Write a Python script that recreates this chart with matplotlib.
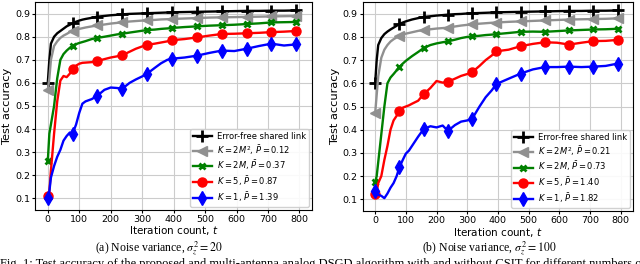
import numpy as np
import matplotlib
matplotlib.use("Agg")
import matplotlib.pyplot as plt

t = [0, 5, 10, 20, 30, 40, 50, 60, 70, 79, 90, 100, 110, 120, 140, 158, 180, 200, 220, 237,
     260, 280, 300, 316, 340, 360, 380, 395, 435, 474, 514, 553, 593, 632, 672, 711, 751, 790]
marker_t = [0, 79, 158, 237, 316, 395, 474, 553, 632, 711, 790]

# Panel (a): sigma^2 = 20
a_ef = [0.60, 0.70, 0.77, 0.80, 0.815, 0.825, 0.835, 0.845, 0.852, 0.858, 0.865, 0.870, 0.874, 0.877,
        0.882, 0.887, 0.890, 0.893, 0.895, 0.897, 0.899, 0.900, 0.901, 0.902, 0.903, 0.904, 0.905,
        0.906, 0.907, 0.908, 0.909, 0.910, 0.911, 0.912, 0.912, 0.913, 0.913, 0.914]
a_k2m2 = [0.57, 0.62, 0.70, 0.76, 0.78, 0.795, 0.805, 0.812, 0.82, 0.826, 0.830, 0.834, 0.837, 0.840,
          0.845, 0.849, 0.853, 0.857, 0.860, 0.863, 0.866, 0.868, 0.870, 0.871, 0.873, 0.875, 0.876,
          0.877, 0.879, 0.881, 0.883, 0.884, 0.885, 0.886, 0.887, 0.888, 0.889, 0.890]
a_k2m = [0.26, 0.38, 0.42, 0.50, 0.62, 0.70, 0.725, 0.74, 0.752, 0.762, 0.768, 0.773, 0.777, 0.781,
         0.79, 0.795, 0.80, 0.805, 0.81, 0.813, 0.818, 0.822, 0.826, 0.829, 0.831, 0.834, 0.836,
         0.838, 0.842, 0.845, 0.848, 0.850, 0.852, 0.855, 0.858, 0.862, 0.863, 0.864]
a_k5 = [0.11, 0.13, 0.22, 0.38, 0.52, 0.61, 0.63, 0.625, 0.64, 0.66, 0.675, 0.683, 0.687, 0.688,
        0.69, 0.695, 0.703, 0.71, 0.715, 0.72, 0.735, 0.748, 0.758, 0.765, 0.77, 0.775, 0.78,
        0.785, 0.79, 0.797, 0.805, 0.812, 0.813, 0.815, 0.817, 0.82, 0.822, 0.825]
a_k1 = [0.10, 0.13, 0.19, 0.24, 0.28, 0.31, 0.35, 0.37, 0.385, 0.38, 0.42, 0.47, 0.51, 0.52,
        0.53, 0.545, 0.57, 0.58, 0.578, 0.575, 0.60, 0.615, 0.628, 0.64, 0.665, 0.685, 0.70,
        0.705, 0.71, 0.718, 0.73, 0.74, 0.738, 0.748, 0.76, 0.77, 0.762, 0.767]
a_labels = ["Error-free shared link",
            r"$K=2M^2$, $\bar{P}=0.12$",
            r"$K=2M$, $\bar{P}=0.37$",
            r"$K=5$, $\bar{P}=0.87$",
            r"$K=1$, $\bar{P}=1.39$"]

# Panel (b): sigma^2 = 100
b_ef = [0.60, 0.70, 0.765, 0.795, 0.812, 0.823, 0.832, 0.84, 0.848, 0.856, 0.862, 0.867, 0.871, 0.875,
        0.881, 0.886, 0.889, 0.892, 0.894, 0.896, 0.898, 0.899, 0.901, 0.902, 0.903, 0.904, 0.905,
        0.906, 0.907, 0.908, 0.909, 0.910, 0.911, 0.912, 0.912, 0.913, 0.913, 0.914]
b_k2m2 = [0.47, 0.55, 0.63, 0.71, 0.745, 0.765, 0.78, 0.79, 0.798, 0.805, 0.81, 0.814, 0.817, 0.82,
          0.826, 0.83, 0.833, 0.836, 0.838, 0.84, 0.845, 0.849, 0.852, 0.855, 0.857, 0.859, 0.861,
          0.862, 0.865, 0.867, 0.869, 0.871, 0.873, 0.875, 0.876, 0.877, 0.878, 0.88]
b_k2m = [0.175, 0.20, 0.26, 0.38, 0.50, 0.60, 0.625, 0.64, 0.656, 0.67, 0.685, 0.697, 0.707, 0.717,
         0.735, 0.752, 0.765, 0.772, 0.777, 0.781, 0.788, 0.795, 0.80, 0.802, 0.805, 0.808, 0.81,
         0.812, 0.817, 0.822, 0.823, 0.822, 0.825, 0.828, 0.830, 0.832, 0.833, 0.835]
b_k5 = [0.125, 0.13, 0.17, 0.20, 0.27, 0.33, 0.40, 0.44, 0.46, 0.48, 0.495, 0.50, 0.505, 0.512,
        0.525, 0.553, 0.58, 0.61, 0.603, 0.607, 0.62, 0.632, 0.64, 0.648, 0.675, 0.70, 0.72,
        0.738, 0.745, 0.76, 0.77, 0.777, 0.775, 0.767, 0.775, 0.782, 0.783, 0.787]
b_k1 = [0.135, 0.125, 0.12, 0.115, 0.105, 0.125, 0.15, 0.17, 0.2, 0.238, 0.27, 0.297, 0.31, 0.33,
        0.37, 0.403, 0.415, 0.41, 0.418, 0.395, 0.42, 0.435, 0.44, 0.447, 0.50, 0.54, 0.57,
        0.597, 0.62, 0.642, 0.66, 0.67, 0.67, 0.672, 0.67, 0.672, 0.675, 0.685]
b_labels = ["Error-free shared link",
            r"$K=2M^2$, $\bar{P}=0.21$",
            r"$K=2M$, $\bar{P}=0.73$",
            r"$K=5$, $\bar{P}=1.40$",
            r"$K=1$, $\bar{P}=1.82$"]

captions = [r"(a) Noise variance, $\sigma_z^2 = 20$", r"(b) Noise variance, $\sigma_z^2 = 100$"]
fig_caption = ("Fig. 1: Test accuracy of the proposed and multi-antenna analog DSGD algorithm "
               "with and without CSIT for different numbers of antennas")

styles = [dict(color="black", marker="+", ms=8, mew=2.0),
          dict(color="#909090", marker="<", ms=6.5, mew=1.0),
          dict(color="green", marker="x", ms=4.5, mew=2.0),
          dict(color="red", marker="o", ms=6.5, mew=1.0),
          dict(color="blue", marker="d", ms=7.5, mew=1.0)]

fig = plt.figure(figsize=(6.4, 2.64), dpi=100)
ax_pos = [[0.055, 0.205, 0.4325, 0.787], [0.567, 0.201, 0.422, 0.791]]
panels = [([a_ef, a_k2m2, a_k2m, a_k5, a_k1], a_labels), ([b_ef, b_k2m2, b_k2m, b_k5, b_k1], b_labels)]
cap_x = [159 / 640, 489 / 640]

tt = np.array(t)
midx = [int(np.where(tt == m)[0][0]) for m in marker_t]

for i, (series, labels) in enumerate(panels):
    ax = fig.add_axes(ax_pos[i])
    for ys, lab, st in zip(series, labels, styles):
        ax.plot(t, ys, lw=1.7, label=lab, markevery=midx, **st)
    ax.set_xlim(-40, 840)
    ax.set_ylim(0.05, 0.95)
    ax.set_xticks([0, 100, 200, 300, 400, 500, 600, 700, 800])
    ax.set_yticks([0.1, 0.2, 0.3, 0.4, 0.5, 0.6, 0.7, 0.8, 0.9])
    ax.tick_params(labelsize=6.8, length=2.5, pad=1.2)
    ax.grid(True, color="#cccccc", lw=0.8)
    ax.set_xlabel(r"Iteration count, $t$", fontsize=7.5, va="top")
    ax.xaxis.set_label_coords(0.5, -0.070)
    ax.set_ylabel("Test accuracy", fontsize=8.2, labelpad=2)
    ax.legend(loc="lower right", fontsize=6.0, handlelength=2.2, borderpad=0.35,
              labelspacing=0.22, handletextpad=0.6, borderaxespad=0.4, framealpha=0.9)
    fig.text(cap_x[i], 1 - 248 / 264, captions[i], ha="center", va="center",
             fontsize=8.5, family="Liberation Serif", math_fontfamily="stix")

fig.text(0.0, 1 - 258 / 264, fig_caption, ha="left", va="top", fontsize=9,
         family="Liberation Serif", math_fontfamily="stix")

fig.savefig("out.png", dpi=100)
